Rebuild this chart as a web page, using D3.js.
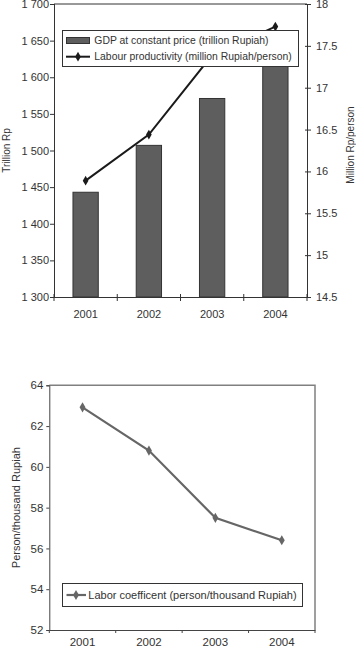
<!DOCTYPE html>
<html><head><meta charset="utf-8">
<script src="https://cdn.jsdelivr.net/npm/d3@7"></script>
<style>body{margin:0;background:#fff}svg{display:block}</style>
</head><body>
<script>
const years = ['2001','2002','2003','2004'];
const gdp = [1443, 1507, 1571, 1656];
const productivity = [15.89, 16.44, 17.39, 17.73];
const laborCoef = [62.92, 60.8, 57.5, 56.4];
const gdpTicks = [1300,1350,1400,1450,1500,1550,1600,1650,1700];
const prodTicks = [14.5,15,15.5,16,16.5,17,17.5,18];
const coefTicks = [52,54,56,58,60,62,64];

const W = 356, H = 646;
const svg = d3.select('body').append('svg').attr('width', W).attr('height', H);
const FONT = 'Liberation Sans, Arial, sans-serif';
const TXT = '#333';

// ---------- Top chart ----------
const T = {l:54, r:307, t:4, b:297};
const x1 = d3.scaleBand().domain(years).range([T.l, T.r]);
const yL = d3.scaleLinear().domain([1300,1700]).range([T.b, T.t]);
const yR = d3.scaleLinear().domain([14.5,18]).range([T.b, T.t]);
const g1 = svg.append('g').attr('font-family', FONT);

// bars
g1.selectAll('rect.bar').data(years).join('rect')
  .attr('x', d => x1(d) + x1.bandwidth()*0.3)
  .attr('width', x1.bandwidth()*0.4)
  .attr('y', (d,i) => yL(gdp[i]))
  .attr('height', (d,i) => T.b - yL(gdp[i]))
  .attr('fill', '#5e5e5e').attr('stroke', '#333').attr('stroke-width', 1);

// top border
g1.append('line').attr('x1', T.l).attr('x2', T.r).attr('y1', T.t).attr('y2', T.t)
  .attr('stroke', '#333').attr('stroke-width', 1);

// left axis
const axL = g1.append('g').attr('transform', `translate(${T.l},0)`)
  .call(d3.axisLeft(yL).tickValues(gdpTicks).tickSize(4).tickFormat(d => d3.format(',')(d).replace(',', ' ')));
axL.select('.domain').attr('stroke', '#333');
axL.selectAll('.tick line').attr('x1', 1).attr('x2', -4).attr('stroke', '#333');
axL.selectAll('.tick text').attr('x', -5).attr('font-size', 11).attr('fill', TXT).attr('font-family', FONT);

// right axis
const axR = g1.append('g').attr('transform', `translate(${T.r},0)`)
  .call(d3.axisRight(yR).tickValues(prodTicks).tickSize(4).tickFormat(d => d));
axR.select('.domain').attr('stroke', '#333');
axR.selectAll('.tick line').attr('x1', -2).attr('x2', 4).attr('stroke', '#333');
axR.selectAll('.tick text').attr('x', 9).attr('font-size', 11).attr('fill', TXT).attr('font-family', FONT);

// bottom axis
const axB = g1.append('g').attr('transform', `translate(0,${T.b})`)
  .call(d3.axisBottom(x1).tickSize(0));
axB.select('.domain').attr('stroke', '#333');
axB.selectAll('.tick text').attr('y', 13).attr('font-size', 11).attr('fill', TXT).attr('font-family', FONT);
const edges1 = years.map(d => x1(d)).concat([x1(years[years.length-1]) + x1.bandwidth()]);
g1.selectAll('line.xt').data(edges1).join('line')
  .attr('x1', d => d).attr('x2', d => d).attr('y1', T.b - 3).attr('y2', T.b + 4)
  .attr('stroke', '#333');

// line
const cx1 = d => x1(d) + x1.bandwidth()/2;
g1.append('path').datum(years)
  .attr('d', d3.line().x(cx1).y((d,i) => yR(productivity[i])))
  .attr('fill', 'none').attr('stroke', '#1a1a1a').attr('stroke-width', 2);
const diamond = d3.symbol().type(d3.symbolDiamond);
g1.selectAll('path.m').data(years).join('path')
  .attr('d', diamond.size(28)())
  .attr('transform', (d,i) => `translate(${cx1(d)},${yR(productivity[i])})`)
  .attr('fill', '#1a1a1a');

// axis titles
g1.append('text').attr('transform', `translate(10,${(T.t+T.b)/2}) rotate(-90)`)
  .attr('text-anchor', 'middle').attr('font-size', 10).attr('fill', TXT).text('Trillion Rp');
g1.append('text').attr('transform', `translate(354,145) rotate(-90)`)
  .attr('text-anchor', 'middle').attr('font-size', 10).attr('fill', TXT).text('Million Rp/person');

// legend
const lg = g1.append('g');
lg.append('rect').attr('x', 62.5).attr('y', 30.5).attr('width', 236).attr('height', 36)
  .attr('fill', '#fff').attr('stroke', '#333').attr('stroke-width', 1);
lg.append('rect').attr('x', 66.5).attr('y', 37.5).attr('width', 23).attr('height', 6)
  .attr('fill', '#5e5e5e').attr('stroke', '#333');
lg.append('line').attr('x1', 66).attr('x2', 90).attr('y1', 56.7).attr('y2', 56.7)
  .attr('stroke', '#1a1a1a').attr('stroke-width', 2);
lg.append('path').attr('d', diamond.size(28)()).attr('transform', 'translate(78,56.7)').attr('fill', '#1a1a1a');
lg.append('text').attr('x', 94.3).attr('y', 40.7).attr('dy', '0.35em').attr('font-size', 10.4)
  .attr('fill', TXT).text('GDP at constant price (trillion Rupiah)');
lg.append('text').attr('x', 94.3).attr('y', 56.7).attr('dy', '0.35em').attr('font-size', 10.4)
  .attr('fill', TXT).text('Labour productivity (million Rupiah/person)');

// ---------- Bottom chart ----------
const B = {l:49.3, r:315, t:385.3, b:630};
const x2 = d3.scaleBand().domain(years).range([B.l, B.r]);
const y2 = d3.scaleLinear().domain([52,64]).range([B.b, B.t]);
const g2 = svg.append('g').attr('font-family', FONT);

// border top/right
g2.append('path').attr('d', `M${B.l},${B.t}H${B.r}V${B.b}`)
  .attr('fill', 'none').attr('stroke', '#808080').attr('stroke-width', 1.5);

const ay2 = g2.append('g').attr('transform', `translate(${B.l},0)`)
  .call(d3.axisLeft(y2).tickValues(coefTicks).tickSize(3).tickPadding(3));
ay2.select('.domain').attr('stroke', '#444');
ay2.selectAll('.tick line').attr('stroke', '#444');
ay2.selectAll('.tick text').attr('font-size', 11.5).attr('fill', TXT).attr('font-family', FONT);

const ax2 = g2.append('g').attr('transform', `translate(0,${B.b})`)
  .call(d3.axisBottom(x2).tickSize(0));
ax2.select('.domain').attr('stroke', '#444');
ax2.selectAll('.tick text').attr('y', 8).attr('font-size', 11.5).attr('fill', TXT).attr('font-family', FONT);
const edges2 = years.map(d => x2(d)).concat([x2(years[years.length-1]) + x2.bandwidth()]);
g2.selectAll('line.xt').data(edges2).join('line')
  .attr('x1', d => d).attr('x2', d => d).attr('y1', B.b).attr('y2', B.b + 3)
  .attr('stroke', '#444');

const cx2 = d => x2(d) + x2.bandwidth()/2;
g2.append('path').datum(years)
  .attr('d', d3.line().x(cx2).y((d,i) => y2(laborCoef[i])))
  .attr('fill', 'none').attr('stroke', '#666').attr('stroke-width', 2.2);
g2.selectAll('path.m').data(years).join('path')
  .attr('d', diamond.size(30)())
  .attr('transform', (d,i) => `translate(${cx2(d)},${y2(laborCoef[i])})`)
  .attr('fill', '#666');

g2.append('text').attr('transform', `translate(20,${(B.t+B.b)/2}) rotate(-90)`)
  .attr('text-anchor', 'middle').attr('font-size', 11).attr('fill', TXT).text('Person/thousand Rupiah');

const lg2 = g2.append('g');
lg2.append('rect').attr('x', 62.5).attr('y', 583.5).attr('width', 240).attr('height', 23)
  .attr('fill', '#fff').attr('stroke', '#333').attr('stroke-width', 1);
lg2.append('line').attr('x1', 66.5).attr('x2', 86).attr('y1', 595).attr('y2', 595)
  .attr('stroke', '#666').attr('stroke-width', 2.2);
lg2.append('path').attr('d', diamond.size(30)()).attr('transform', 'translate(76,595)').attr('fill', '#666');
lg2.append('text').attr('x', 88.3).attr('y', 595).attr('dy', '0.35em').attr('font-size', 11)
  .attr('fill', TXT).text('Labor coefficent (person/thousand Rupiah)');
</script>
</body></html>
